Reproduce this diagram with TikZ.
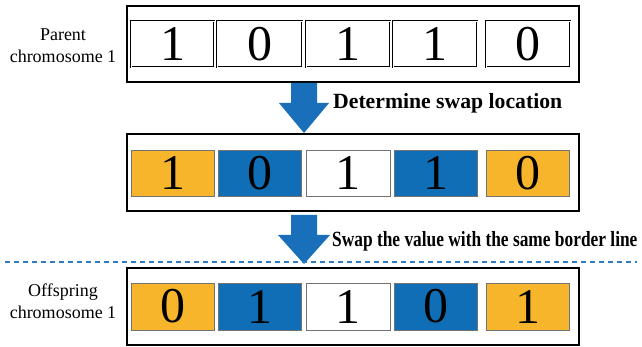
\documentclass[tikz,border=0pt]{standalone}
\usepackage{fontspec}
\setmainfont{Liberation Serif}
\definecolor{myorange}{HTML}{F7B52C}
\definecolor{myblue}{HTML}{106EB6}
\definecolor{arrowblue}{HTML}{1A6FBA}
\definecolor{dashblue}{HTML}{2E7BC0}
\begin{document}
\begin{tikzpicture}[x=1pt,y=-1pt,
  outerbox/.style={draw=black,line width=1.8pt},
  dcell/.style={draw=black,double,line width=0.7pt,double distance=0.9pt},
  ccell/.style={draw=black!55,line width=0.7pt},
  digit/.style={font=\fontsize{50}{50}\selectfont},
  lbl/.style={align=center,font=\fontsize{18}{22}\selectfont},
  note/.style={anchor=base west,font=\fontsize{21.7}{24}\selectfont\bfseries},
  blockarrow/.style={fill=arrowblue}]
\useasboundingbox[fill=white] (0,0) rectangle (642,347);

% outer boxes
\draw[outerbox] (127,6) rectangle (579,82);
\draw[outerbox] (127,134) rectangle (579,211);
\draw[outerbox] (127,268) rectangle (579,345);

% cell x positions
\def\cellxs{131/214,217/302,306/390,393/477,486/570}

% row 1
\foreach \a/\b/\v [count=\i] in {131/214/1,217/302/0,306/390/1,393/477/1,486/570/0}{
  \draw[dcell] (\a,21) rectangle (\b,67);
  \node[digit] (r1c\i) at ({(\a+\b)/2},44) {\v};
}
% row 2
\foreach \a/\b/\v/\c [count=\i] in {131/214/1/myorange,218/301/0/myblue,306/390/1/white,394/477/1/myblue,486/569/0/myorange}{
  \draw[ccell,fill=\c] (\a,150) rectangle (\b,196);
  \node[digit] (r2c\i) at ({(\a+\b)/2},173) {\v};
}
% row 3
\foreach \a/\b/\v/\c [count=\i] in {131/214/0/myorange,218/301/1/myblue,306/390/1/white,394/477/0/myblue,486/569/1/myorange}{
  \draw[ccell,fill=\c] (\a,283) rectangle (\b,330);
  \node[digit] (r3c\i) at ({(\a+\b)/2},306.5) {\v};
}

% labels
\node[lbl] (lab1) at (63,46) {Parent\\chromosome 1};
\node[lbl] (lab3) at (63,301) {Offspring\\chromosome 1};

% arrows
\fill[blockarrow] (291,83) -- (317,83) -- (317,103) -- (329,103) -- (304,133) -- (279,103) -- (291,103) -- cycle;
\fill[blockarrow] (291,215) -- (317,215) -- (317,235) -- (330,235) -- (304,264) -- (278,235) -- (291,235) -- cycle;

\node[note,inner sep=0pt] (t1) at (333,109) {Determine swap location};
\node[note,inner sep=0pt] (t2) at (332,247) {\scalebox{0.8}[1]{Swap the value with the same border line}};

% dashed separator
\draw[dashblue,line width=1.1pt,dash pattern=on 5pt off 4pt] (5,262) -- (637,262);
\end{tikzpicture}
\end{document}
